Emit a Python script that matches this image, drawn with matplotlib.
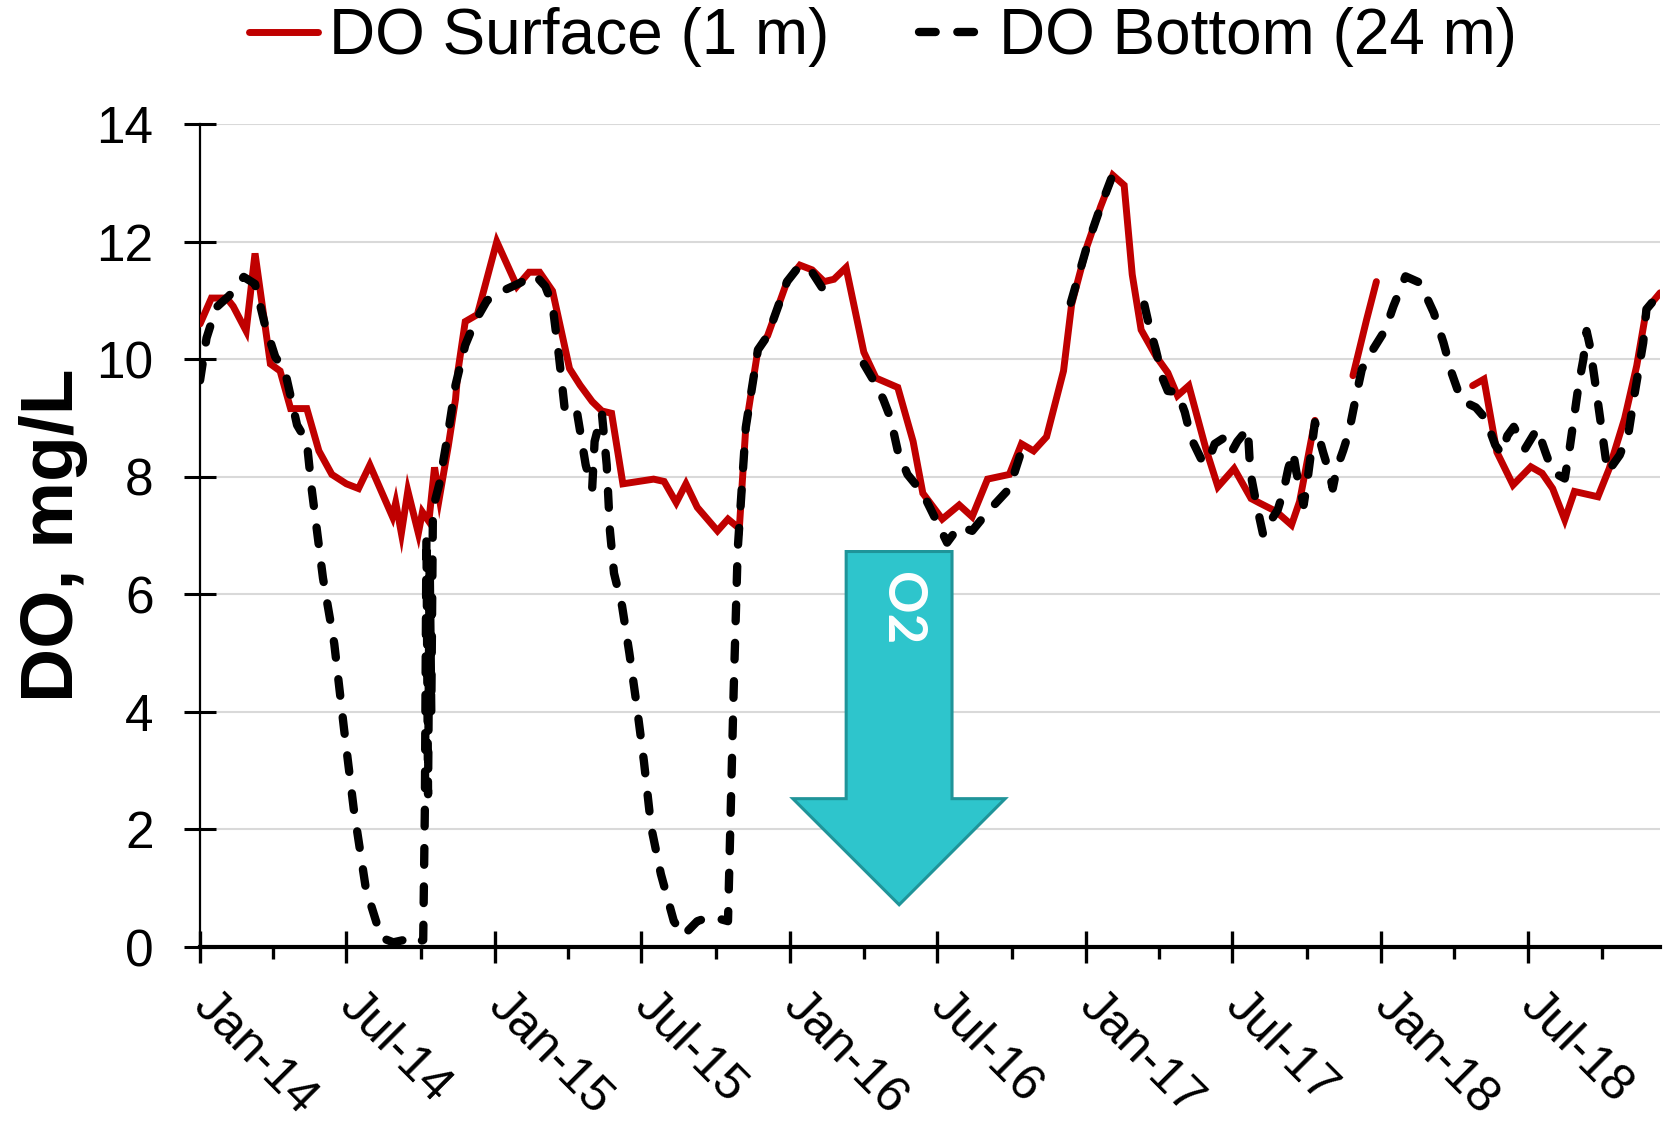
import numpy as np
import pandas as pd
import matplotlib.pyplot as plt
import matplotlib.dates as mdates
from matplotlib.patches import Polygon

plt.rcParams["font.family"] = ["Liberation Sans", "DejaVu Sans"]

# DO at 1 m (surface)
surf_dates = [
    "2014-01-01", "2014-01-15", "2014-02-03", "2014-02-11", "2014-02-27", "2014-03-10",
    "2014-03-29", "2014-04-10", "2014-04-23", "2014-05-13", "2014-05-28", "2014-06-13",
    "2014-07-01", "2014-07-16", "2014-07-30", "2014-08-27", "2014-08-31", "2014-09-07",
    "2014-09-15", "2014-09-28", "2014-10-03", "2014-10-11", "2014-10-18", "2014-10-24",
    "2014-11-04", "2014-11-13", "2014-11-16", "2014-11-25", "2014-12-10", "2015-01-03",
    "2015-01-28", "2015-02-12", "2015-02-25", "2015-03-13", "2015-04-03", "2015-04-16",
    "2015-05-01", "2015-05-13", "2015-05-25", "2015-06-08", "2015-07-16", "2015-07-29",
    "2015-08-13", "2015-08-25", "2015-09-08", "2015-10-03", "2015-10-16", "2015-10-30",
    "2015-11-07", "2015-11-22", "2015-12-04", "2015-12-28", "2016-01-13", "2016-01-28",
    "2016-02-12", "2016-02-24", "2016-03-10", "2016-04-01", "2016-04-16", "2016-05-13",
    "2016-06-01", "2016-06-13", "2016-07-07", "2016-07-28", "2016-08-13", "2016-09-01",
    "2016-09-28", "2016-10-13", "2016-10-28", "2016-11-13", "2016-12-04", "2016-12-14",
    "2017-01-02", "2017-01-19", "2017-02-03", "2017-02-17", "2017-02-27", "2017-03-10",
    "2017-03-28", "2017-04-12", "2017-04-24", "2017-05-08", "2017-05-29", "2017-06-13",
    "2017-07-03", "2017-07-24", "2017-08-04", "2017-08-24", "2017-09-12", "2017-09-22",
    "2017-10-11", "2017-11-01", "2017-11-27", "2017-12-14", "2017-12-26", "2018-02-15",
    "2018-04-24", "2018-05-08", "2018-05-24", "2018-06-13", "2018-07-05", "2018-07-19",
    "2018-08-01", "2018-08-16", "2018-08-28", "2018-09-26", "2018-10-10", "2018-10-29",
    "2018-11-13", "2018-11-25", "2018-12-12",
]
surf_do = [
    10.6, 11.04, 11.04, 10.9, 10.48, 11.8,
    9.92, 9.8, 9.16, 9.16, 8.44, 8.04,
    7.88, 7.8, 8.2, 7.32, 7.56, 7.04,
    7.76, 7.04, 7.4, 7.24, 8.16, 7.64,
    8.52, 9.32, 9.8, 10.64, 10.76, 12.0,
    11.24, 11.48, 11.48, 11.16, 9.84, 9.56,
    9.28, 9.12, 9.08, 7.88, 7.96, 7.92,
    7.56, 7.88, 7.48, 7.08, 7.28, 7.12,
    8.84, 10.16, 10.4, 11.32, 11.6, 11.52,
    11.32, 11.36, 11.56, 10.12, 9.68, 9.52,
    8.6, 7.72, 7.28, 7.52, 7.32, 7.96,
    8.04, 8.56, 8.44, 8.68, 9.8, 10.93,
    11.92, 12.6, 13.13, 12.96, 11.44, 10.5,
    10.06, 9.77, 9.38, 9.55, 8.48, 7.83,
    8.14, 7.63, 7.55, 7.41, 7.18, 7.58,
    8.96, np.nan, 9.72, 10.68, 11.32, np.nan,
    9.55, 9.66, 8.42, 7.86, 8.17, 8.06,
    7.8, 7.27, 7.75, 7.66, 8.14, 8.99,
    9.89, 10.85, 11.13,
]

# DO at 24 m (bottom)
bot_dates = [
    "2014-01-01", "2014-01-09", "2014-01-21", "2014-02-06", "2014-02-24", "2014-03-10",
    "2014-03-22", "2014-04-04", "2014-04-16", "2014-05-01", "2014-05-13", "2014-05-19",
    "2014-06-02", "2014-06-16", "2014-06-28", "2014-07-10", "2014-07-25", "2014-08-13",
    "2014-08-28", "2014-09-10", "2014-09-19", "2014-10-04", "2014-10-06", "2014-10-08",
    "2014-10-10", "2014-10-12", "2014-10-14", "2014-10-16", "2014-10-18", "2014-10-24",
    "2014-11-04", "2014-11-13", "2014-11-25", "2014-12-07", "2014-12-22", "2015-01-10",
    "2015-02-01", "2015-02-19", "2015-03-04", "2015-03-13", "2015-03-21", "2015-03-28",
    "2015-04-11", "2015-04-23", "2015-05-01", "2015-05-04", "2015-05-13", "2015-05-19",
    "2015-05-23", "2015-05-28", "2015-06-07", "2015-06-16", "2015-06-25", "2015-07-04",
    "2015-07-13", "2015-07-25", "2015-08-10", "2015-08-22", "2015-09-08", "2015-09-25",
    "2015-10-16", "2015-10-19", "2015-10-23", "2015-10-28", "2015-11-07", "2015-11-22",
    "2015-12-04", "2015-12-28", "2016-01-13", "2016-01-28", "2016-02-12", "2016-02-27",
    "2016-03-15", "2016-04-01", "2016-04-13", "2016-04-25", "2016-05-04", "2016-05-13",
    "2016-05-25", "2016-06-13", "2016-07-13", "2016-07-28", "2016-08-13", "2016-09-01",
    "2016-09-28", "2016-10-13", "2016-11-15", "2016-12-13", "2017-01-02", "2017-01-19",
    "2017-02-01", "2017-02-20", "2017-03-14", "2017-03-20", "2017-03-28", "2017-04-06",
    "2017-04-12", "2017-04-24", "2017-05-03", "2017-05-11", "2017-05-23", "2017-05-31",
    "2017-06-09", "2017-06-19", "2017-06-29", "2017-07-07", "2017-07-20", "2017-07-23",
    "2017-07-30", "2017-08-08", "2017-08-14", "2017-08-26", "2017-09-02", "2017-09-08",
    "2017-09-14", "2017-09-18", "2017-09-27", "2017-10-02", "2017-10-11", "2017-10-21",
    "2017-10-29", "2017-11-02", "2017-11-07", "2017-11-15", "2017-11-22", "2017-12-01",
    "2017-12-08", "2017-12-22", "2018-01-06", "2018-01-16", "2018-01-31", "2018-02-18",
    "2018-03-07", "2018-03-19", "2018-03-29", "2018-04-10", "2018-04-28", "2018-05-10",
    "2018-05-22", "2018-05-30", "2018-06-06", "2018-06-14", "2018-06-28", "2018-07-13",
    "2018-07-23", "2018-08-01", "2018-08-16", "2018-08-22", "2018-09-02", "2018-09-08",
    "2018-09-12", "2018-09-16", "2018-09-22", "2018-09-30", "2018-10-08", "2018-10-23",
    "2018-11-03", "2018-11-10", "2018-11-21", "2018-11-25", "2018-12-12",
]
bot_do = [
    9.64, 10.36, 10.88, 11.08, 11.4, 11.28,
    10.6, 10.04, 9.8, 8.88, 8.6, 7.8,
    6.28, 5.16, 3.72, 2.36, 1.0, 0.16,
    0.08, 0.12, 0.04, 0.12, 2.3, 7.0,
    2.6, 6.6, 4.0, 7.4, 7.56, 7.88,
    8.76, 9.56, 10.24, 10.64, 11.0, 11.16,
    11.3, 11.44, 11.24, 10.92, 10.04, 9.16,
    9.2, 8.2, 7.8, 8.6, 9.08, 8.2,
    7.08, 6.36, 5.8, 5.0, 4.12, 3.16,
    2.04, 1.24, 0.44, 0.2, 0.44, 0.52,
    0.44, 2.12, 4.36, 6.76, 8.84, 10.16,
    10.4, 11.32, 11.6, 11.48, 11.16, 11.28,
    np.nan, 9.92, 9.64, 9.32, 9.0, 8.44,
    8.04, 7.72, 6.88, 7.16, 7.08, 7.4,
    7.8, 8.44, np.nan, 10.96, 11.92, 12.6,
    13.07, np.nan, 10.93, 10.56, 10.17, 9.66,
    9.46, 9.44, 9.1, 8.65, 8.31, 8.23,
    8.56, 8.65, 8.4, 8.6, 8.82, 8.08,
    7.58, 7.01, 7.18, 7.44, 7.75, 8.14,
    8.42, 8.08, 7.52, 7.97, 8.93, 8.42,
    8.06, 7.8, 8.14, 8.45, 8.76, 9.38,
    9.83, 10.17, 10.5, 10.9, 11.41, 11.3,
    10.79, 10.28, 9.77, 9.3, 9.18, 8.99,
    8.54, 8.39, 8.7, 8.85, 8.48, 8.82,
    8.42, 8.08, 7.97, 8.48, 9.55, 10.0,
    10.48, 10.23, 9.66, 8.87, 8.08, 8.37,
    8.76, 9.38, 10.28, 10.85, 11.13,
]

surf_x = pd.to_datetime(surf_dates)
bot_x = pd.to_datetime(bot_dates)

fig = plt.figure(figsize=(16.63, 11.3), dpi=100)
ax = fig.add_axes([0.1203, 0.1619, 0.878, 0.7283])

ax.plot(surf_x, surf_do, color="#C00000", lw=5.0, solid_joinstyle="miter",
        solid_capstyle="round", label="DO Surface (1 m)", zorder=3)
ax.plot(bot_x, bot_do, color="black", lw=6.0, dashes=(2.0, 2.6),
        dash_capstyle="round", label="DO Bottom (24 m)", zorder=4)

# oxygen-depletion arrow
arrow = Polygon([(0.4425, 0.4806), (0.515, 0.4806), (0.515, 0.1803), (0.5514, 0.1803),
                 (0.4788, 0.0514), (0.406, 0.1803), (0.4425, 0.1803)],
                closed=True, transform=ax.transAxes, facecolor="#2EC5CC",
                edgecolor="#1F9499", lw=2.2, zorder=5)
ax.add_patch(arrow)
ax.text(0.4806, 0.4107, "O2", transform=ax.transAxes, rotation=-90, color="white",
        fontsize=38, family="Lato", fontweight="bold", ha="center", va="center",
        zorder=6)

ax.set_ylim(0, 14)
ax.set_yticks(range(0, 15, 2))
ax.set_xlim(pd.Timestamp("2014-01-01"), pd.Timestamp("2018-12-12"))
ax.xaxis.set_major_locator(mdates.MonthLocator(bymonth=[1, 7]))
ax.xaxis.set_minor_locator(mdates.MonthLocator(bymonth=[4, 10]))
ax.xaxis.set_major_formatter(mdates.DateFormatter("%b-%y"))

ax.grid(axis="y", color="#D9D9D9", lw=1.5, zorder=0)
ax.set_axisbelow(True)
for s in ["top", "right"]:
    ax.spines[s].set_visible(False)
ax.spines["left"].set_linewidth(1.6)
ax.spines["bottom"].set_linewidth(3.0)

ax.tick_params(axis="y", direction="inout", length=23, width=2.2, labelsize=37, pad=22)
ax.tick_params(axis="x", which="major", direction="inout", length=23, width=2.4,
               labelsize=36, pad=26)
ax.tick_params(axis="x", which="minor", direction="out", length=8.5, width=2.4)
for lab in ax.get_xticklabels():
    lab.set_rotation(-45)
    lab.set_ha("left")
    lab.set_va("center")
    lab.set_rotation_mode("anchor")

ax.set_ylabel("DO, mg/L", fontsize=54, fontweight="bold")
ax.yaxis.set_label_coords(-0.077, 0.5)

fig.legend(loc="center", bbox_to_anchor=(0.531, 0.967), ncol=2, frameon=False,
           fontsize=46, handlelength=1.08, handletextpad=0.165, columnspacing=1.41,
           borderpad=0)

fig.savefig("out.png", dpi=100)
